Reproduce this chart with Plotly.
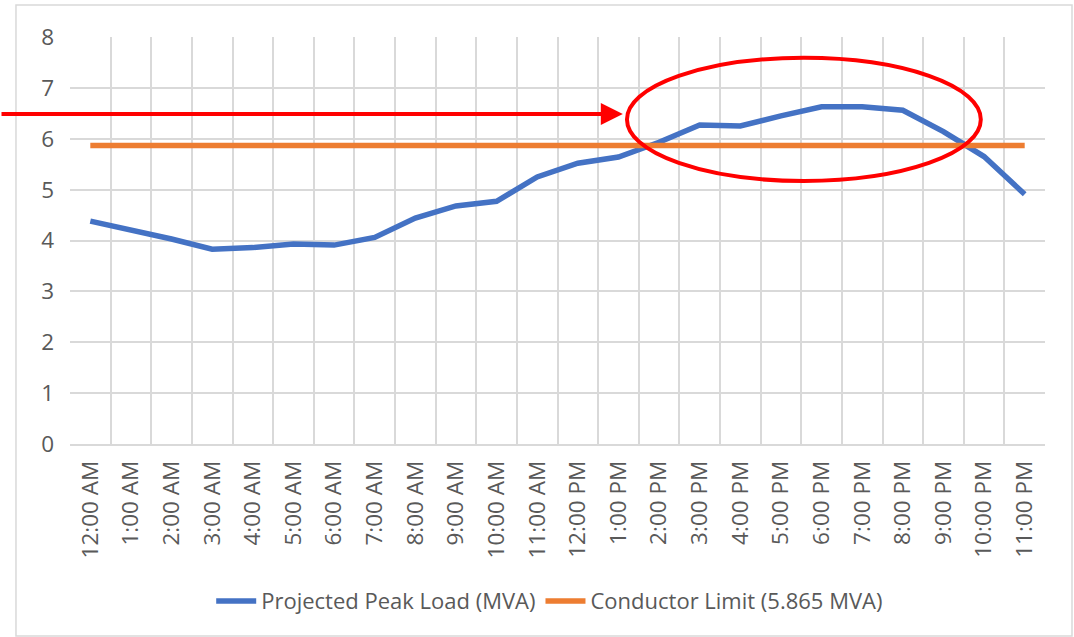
import plotly.graph_objects as go

# Hourly categories for the day
hours = [
    "12:00 AM", "1:00 AM", "2:00 AM", "3:00 AM", "4:00 AM", "5:00 AM",
    "6:00 AM", "7:00 AM", "8:00 AM", "9:00 AM", "10:00 AM", "11:00 AM",
    "12:00 PM", "1:00 PM", "2:00 PM", "3:00 PM", "4:00 PM", "5:00 PM",
    "6:00 PM", "7:00 PM", "8:00 PM", "9:00 PM", "10:00 PM", "11:00 PM",
]

# Projected peak load per hour (MVA)
peak_load = [
    4.38, 4.21, 4.03, 3.83, 3.86, 3.93,
    3.91, 4.06, 4.44, 4.68, 4.77, 5.25,
    5.52, 5.64, 5.93, 6.27, 6.25, 6.45,
    6.63, 6.63, 6.56, 6.14, 5.65, 4.91,
]

# Conductor thermal limit (MVA)
conductor_limit = 5.865

y_ticks = [0, 1, 2, 3, 4, 5, 6, 7, 8]

FONT = "Open Sans"
TEXT = "#595959"
GRID = "#d9d9d9"

fig = go.Figure()
fig.add_trace(go.Scatter(
    x=hours, y=peak_load, mode="lines",
    name="Projected Peak Load (MVA)",
    line=dict(color="#4472C4", width=5.5),
))
fig.add_trace(go.Scatter(
    x=hours, y=[conductor_limit] * len(hours), mode="lines",
    name="Conductor Limit (5.865 MVA)",
    line=dict(color="#ED7D31", width=5.5),
))

# Highlight the hours where the load exceeds the limit
fig.add_shape(
    type="circle", xref="x", yref="y",
    x0=13.21, x1=21.92, y0=5.17, y1=7.59,
    line=dict(color="#FF0000", width=4),
)
fig.add_annotation(
    xref="paper", yref="paper",
    x=0.567, y=0.8108, ax=-650, ay=0,
    axref="pixel", ayref="pixel",
    text="", showarrow=True,
    arrowhead=2, arrowsize=1.1, arrowwidth=4, arrowcolor="#FF0000",
)

# Outer chart frame
fig.add_shape(
    type="rect", xref="paper", yref="paper",
    x0=-0.0554, x1=1.0277, y0=-0.4717, y1=1.0786,
    line=dict(color=GRID, width=1.5), layer="below",
)

fig.update_layout(
    width=1074, height=637,
    margin=dict(l=70, r=29, t=37, b=193),
    paper_bgcolor="white", plot_bgcolor="white",
    font=dict(family=FONT, color=TEXT),
    showlegend=True,
    legend=dict(
        orientation="h", x=0.492, xanchor="center",
        y=-0.386, yanchor="middle",
        font=dict(family=FONT, size=22, color=TEXT),
        itemwidth=40,
    ),
)
fig.update_xaxes(
    type="category", range=[-0.5, 23.5],
    tickson="boundaries", ticks="",
    showgrid=True, gridcolor=GRID, gridwidth=1.5,
    showline=True, linecolor=GRID, linewidth=1.5,
    tickangle=-90, tickfont=dict(family=FONT, size=22.5, color=TEXT),
    ticklabelstandoff=6,
    fixedrange=True,
)
fig.update_yaxes(
    range=[0, 8], tickvals=y_ticks,
    showgrid=True, gridcolor=GRID, gridwidth=1.5,
    zeroline=False, showline=False, ticks="",
    tickfont=dict(family=FONT, size=22.5, color=TEXT),
    ticklabelstandoff=15,
    fixedrange=True,
)

fig.write_html("out.html")
